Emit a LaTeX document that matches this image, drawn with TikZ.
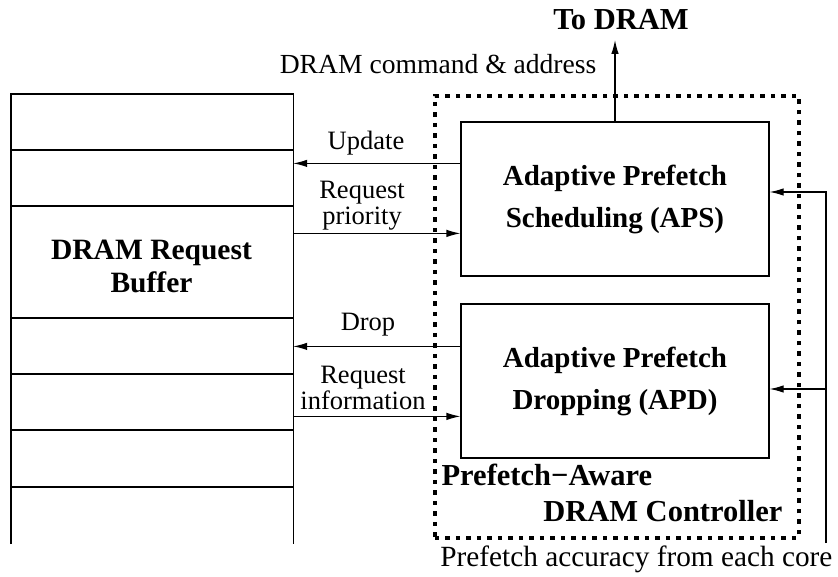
\documentclass[tikz,border=0pt]{standalone}
\usepackage{fontspec}
\setmainfont{Liberation Serif}
\usetikzlibrary{arrows.meta,calc}
\begin{document}
\begin{tikzpicture}[x=1pt,y=-1pt,
  line width=1.2pt,
  arr/.style={-{Latex[length=14pt,width=7.5pt]}},
  unitbox/.style={draw, minimum width=308pt, minimum height=154pt, inner sep=0pt,
    align=center, font=\fontsize{29}{42}\selectfont\bfseries},
  lbl/.style={align=center, inner sep=0pt, font=\fontsize{26.5}{26}\selectfont},
  boldlbl/.style={inner sep=0pt, font=\fontsize{30.5}{34}\selectfont\bfseries},
  frame/.style={line width=3.6pt, dash pattern=on 4.5pt off 6pt}]
\useasboundingbox (0,0) rectangle (838,577);

% request buffer: a column of slots, open at the bottom
\node[minimum width=281pt, minimum height=449pt, inner sep=0pt, anchor=north west] (buf) at (11,94) {};
\draw (buf.south west) -- (buf.north west) -- (buf.north east) -- (buf.south east);
\foreach \yy in {150,206,318,374,430,487}
  \draw (buf.west |- 0,\yy) -- (buf.east |- 0,\yy);
\node[align=center, inner sep=0pt, font=\fontsize{29.5}{33}\selectfont\bfseries] (buftxt) at (151.5,266) {DRAM Request\\Buffer};

% controller frame
\node[frame, draw, minimum width=364pt, minimum height=442pt, inner sep=0pt, anchor=north west] (ctrl) at (433,94) {};

% the two units
\node[unitbox] (aps) at (615,199) {Adaptive Prefetch\\Scheduling (APS)};
\node[unitbox] (apd) at (615,381) {Adaptive Prefetch\\Dropping (APD)};

\node[boldlbl, anchor=base west] (pa) at (441,485) {Prefetch−Aware};
\node[boldlbl, anchor=base east] (dc) at (783,521) {DRAM Controller};

% output to memory
\node[boldlbl] (todram) at (621,20) {To DRAM};
\coordinate (tip) at (615,40);
\draw[arr] (aps.north) -- (tip);
\node[lbl, font=\fontsize{27.6}{28}\selectfont, anchor=base east] (cmd) at (597,74) {DRAM command \& address};

% links between the buffer and the units
\coordinate (updsrc) at ([yshift=-42pt]aps.north west);
\coordinate (prisink) at ([yshift=-112pt]aps.north west);
\coordinate (drpsrc) at ([yshift=-43pt]apd.north west);
\coordinate (infsink) at ([yshift=-113pt]apd.north west);
\draw[arr] (updsrc) -- (buf.east |- updsrc);
\draw[arr] (buf.east |- prisink) -- (prisink);
\draw[arr] (drpsrc) -- (buf.east |- drpsrc);
\draw[arr] (buf.east |- infsink) -- (infsink);
\node[lbl] (lupd) at (366,143) {Update};
\node[lbl] (lpri) at (362,206) {Request\\priority};
\node[lbl] (ldrp) at (368,325) {Drop};
\node[lbl] (linf) at (363,388) {Request\\information};

% prefetch accuracy feedback
\coordinate (fb) at (826,543);
\coordinate (apsin) at ([yshift=7pt]aps.east);
\coordinate (apdin) at ([yshift=-8pt]apd.east);
\draw[arr] (fb) |- (apsin);
\draw[arr] (fb |- apdin) -- (apdin);
\node[lbl, font=\fontsize{29.3}{30}\selectfont, anchor=base east] (acc) at (833,566) {Prefetch accuracy from each core};
\end{tikzpicture}
\end{document}
